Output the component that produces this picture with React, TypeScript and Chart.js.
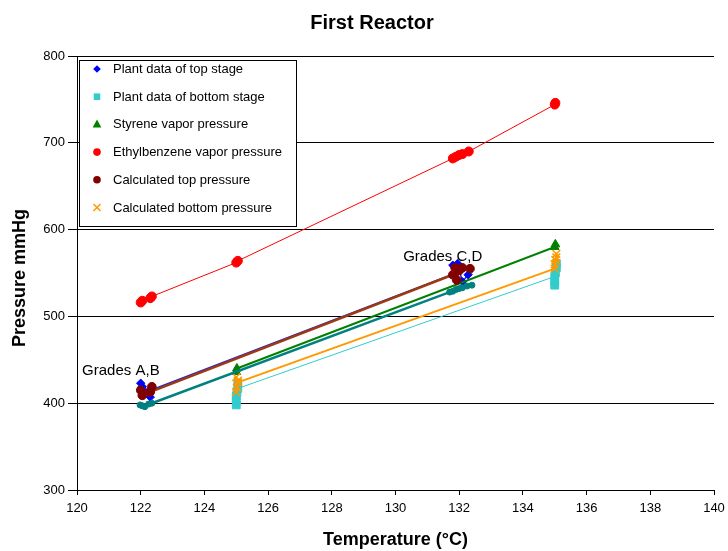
import React, { useEffect, useRef } from "react";
import { Chart, registerables } from "chart.js";

Chart.register(...registerables);

const TITLE = "First Reactor";
const X_TITLE = "Temperature (°C)";
const Y_TITLE = "Pressure mmHg";

const X_TICKS = [120, 122, 124, 126, 128, 130, 132, 134, 136, 138, 140];
const Y_TICKS = [300, 400, 500, 600, 700, 800];

// Plant data of top stage
const plantTopT = [122.0, 122.3, 122.05, 122.25, 131.9, 131.8, 131.95, 132.1, 132.28];
const plantTopP = [423, 407, 419, 414, 550, 559, 561, 540, 548];

// Plant data of bottom stage
const plantBotT = [125.0, 125.0, 125.0, 125.02, 125.05, 125.05, 135.0, 135.0, 135.0, 135.02, 135.05, 135.05];
const plantBotP = [398, 402, 408, 412, 423, 417, 546, 536, 540, 550, 556, 561];

// Styrene vapor pressure
const styreneT = [125.0, 125.02, 135.0, 135.02];
const styreneP = [436, 440, 580, 583];

// Ethylbenzene vapor pressure
const ebT = [122.0, 122.05, 122.3, 122.35, 125.0, 125.05, 131.8, 131.9, 132.0, 132.1, 132.3, 135.0, 135.02];
const ebP = [516, 518, 521, 523, 562, 564, 682, 684, 686, 687, 690, 744, 746];

// Calculated top pressure
const calcTopT = [122.0, 122.05, 122.35, 122.3, 131.8, 131.87, 131.92, 132.0, 132.1, 132.34];
const calcTopP = [415, 409, 419, 413, 548, 556, 542, 553, 556, 555];

// Calculated bottom pressure
const calcBotT = [125.0, 125.0, 125.02, 125.05, 125.05, 135.0, 135.0, 135.02, 135.05, 135.05];
const calcBotP = [413, 430, 418, 426, 424, 555, 560, 565, 572, 568];

// Styrene vapor pressure, grades A-D (no legend entry)
const styreneAdT = [121.98, 122.05, 122.13, 122.25, 122.35, 131.7, 131.8, 131.9, 132.0, 132.1, 132.25, 132.4];
const styreneAdP = [398, 397, 396, 399, 400, 528, 529, 531, 532, 533, 535, 536];

const ANNOTATIONS = [
  { text: "Grades A,B", t: 120.16, p: 432.5 },
  { text: "Grades C,D", t: 130.24, p: 563.8 },
];

type Style = "rectRot" | "rect" | "triangle" | "circle" | "crossRot";

const SERIES = [
  { label: "Plant data of top stage", t: plantTopT, p: plantTopP, color: "#0000FF", line: "#2020E0", lw: 1.5, style: "rectRot" as Style, r: 4.2, legend: true },
  { label: "Plant data of bottom stage", t: plantBotT, p: plantBotP, color: "#33CCCC", line: "#33CCCC", lw: 1, style: "rect" as Style, r: 5.5, legend: true },
  { label: "Styrene vapor pressure", t: styreneT, p: styreneP, color: "#008000", line: "#008000", lw: 2, style: "triangle" as Style, r: 5, legend: true },
  { label: "Ethylbenzene vapor pressure", t: ebT, p: ebP, color: "#FF0000", line: "#FF0000", lw: 1, style: "circle" as Style, r: 4.5, legend: true },
  { label: "Calculated top pressure", t: calcTopT, p: calcTopP, color: "#800000", line: "#9C3B12", lw: 2.5, style: "circle" as Style, r: 4.3, legend: true },
  { label: "Calculated bottom pressure", t: calcBotT, p: calcBotP, color: "#FF9900", line: "#FF9900", lw: 2, style: "crossRot" as Style, r: 5.5, legend: true },
  { label: "Styrene vapor pressure (A-D)", t: styreneAdT, p: styreneAdP, color: "#008080", line: "#008080", lw: 2.5, style: "circle" as Style, r: 3, legend: false },
];

const FONT = '"Liberation Sans", Arial, Helvetica, sans-serif';

function drawMarker(ctx: CanvasRenderingContext2D, style: Style, x: number, y: number, r: number, color: string) {
  ctx.save();
  ctx.fillStyle = color;
  ctx.strokeStyle = color;
  ctx.lineWidth = 1.5;
  ctx.beginPath();
  if (style === "rectRot") {
    ctx.moveTo(x, y - r);
    ctx.lineTo(x + r, y);
    ctx.lineTo(x, y + r);
    ctx.lineTo(x - r, y);
    ctx.closePath();
    ctx.fill();
  } else if (style === "rect") {
    ctx.rect(x - r * 0.75, y - r * 0.75, r * 1.5, r * 1.5);
    ctx.fill();
  } else if (style === "triangle") {
    ctx.moveTo(x, y - r);
    ctx.lineTo(x + r * 0.9, y + r * 0.65);
    ctx.lineTo(x - r * 0.9, y + r * 0.65);
    ctx.closePath();
    ctx.fill();
  } else if (style === "circle") {
    ctx.arc(x, y, r, 0, Math.PI * 2);
    ctx.fill();
  } else {
    const d = r * 0.707;
    ctx.moveTo(x - d, y - d);
    ctx.lineTo(x + d, y + d);
    ctx.moveTo(x + d, y - d);
    ctx.lineTo(x - d, y + d);
    ctx.stroke();
  }
  ctx.restore();
}

const overlay = {
  id: "overlay",
  afterDraw(chart: any) {
    const ctx: CanvasRenderingContext2D = chart.ctx;
    const xs = chart.scales.x;
    const ys = chart.scales.y;
    const area = chart.chartArea;
    ctx.save();
    ctx.fillStyle = "#000";
    ctx.textAlign = "center";
    ctx.textBaseline = "middle";
    ctx.font = `bold 20px ${FONT}`;
    ctx.fillText(TITLE, 372, 23);
    ctx.font = `bold 18px ${FONT}`;
    ctx.fillText(X_TITLE, (area.left + area.right) / 2, 540);
    ctx.save();
    ctx.translate(20, 278);
    ctx.rotate(-Math.PI / 2);
    ctx.fillText(Y_TITLE, 0, 0);
    ctx.restore();

    ctx.font = `15px ${FONT}`;
    ctx.textAlign = "left";
    ctx.textBaseline = "alphabetic";
    for (const a of ANNOTATIONS) {
      ctx.fillText(a.text, xs.getPixelForValue(a.t), ys.getPixelForValue(a.p));
    }

    // legend box
    const bx = 79.5, by = 60.5, bw = 217, bh = 166;
    ctx.fillStyle = "#fff";
    ctx.fillRect(bx, by, bw, bh);
    ctx.strokeStyle = "#000";
    ctx.lineWidth = 1;
    ctx.strokeRect(bx, by, bw, bh);
    ctx.font = `13px ${FONT}`;
    ctx.textBaseline = "middle";
    ctx.fillStyle = "#000";
    SERIES.filter((s) => s.legend).forEach((s, i) => {
      const cy = 69 + i * 27.7;
      const rr = s.style === "crossRot" ? 5 : s.style === "rect" ? 4.4 : s.style === "triangle" ? 4.8 : 3.8;
      drawMarker(ctx, s.style, 97, cy, rr, s.color);
      ctx.fillStyle = "#000";
      ctx.fillText(s.label, 113, cy + 0.5);
    });
    ctx.restore();
  },
};

export default function App() {
  const ref = useRef<HTMLCanvasElement | null>(null);
  useEffect(() => {
    if (!ref.current) return;
    const n = SERIES.length;
    const chart = new Chart(ref.current, {
      type: "scatter",
      data: {
        datasets: SERIES.map((s, i) => ({
          label: s.label,
          data: s.t.map((x, k) => ({ x, y: s.p[k] })),
          showLine: true,
          borderColor: s.line,
          borderWidth: s.lw,
          backgroundColor: s.color,
          pointBackgroundColor: s.color,
          pointBorderColor: s.color,
          pointBorderWidth: s.style === "crossRot" ? 1.6 : 1,
          pointStyle: s.style,
          pointRadius: s.r,
          pointHoverRadius: s.r,
          tension: 0,
          order: n - i,
        })),
      },
      options: {
        responsive: false,
        animation: false,
        events: [],
        layout: { padding: { left: 0, right: 14, top: 56, bottom: 0 } },
        plugins: {
          legend: { display: false },
          title: { display: false },
          tooltip: { enabled: false },
        },
        scales: {
          x: {
            type: "linear",
            min: 120,
            max: 140,
            afterBuildTicks: (s: any) => {
              s.ticks = X_TICKS.map((v) => ({ value: v }));
            },
            afterFit: (s: any) => {
              s.height = 61;
              s.paddingLeft = 0;
              s.paddingRight = 0;
            },
            grid: { drawOnChartArea: false, drawTicks: true, tickLength: 5, color: "#000" },
            border: { display: true, color: "#000", width: 1 },
            ticks: { color: "#000", font: { family: FONT, size: 13 }, padding: 6, maxRotation: 0, autoSkip: false },
          },
          y: {
            type: "linear",
            min: 300,
            max: 800,
            afterBuildTicks: (s: any) => {
              s.ticks = Y_TICKS.map((v) => ({ value: v }));
            },
            afterFit: (s: any) => {
              s.width = 77;
              s.paddingTop = 0;
              s.paddingBottom = 0;
            },
            grid: { color: "#000", lineWidth: 1, drawTicks: true, tickLength: 9 },
            border: { display: true, color: "#000", width: 1 },
            ticks: { color: "#000", font: { family: FONT, size: 13 }, padding: 3 },
          },
        },
      },
      plugins: [overlay],
    } as any);
    return () => chart.destroy();
  }, []);
  return (
    <div style={{ position: "fixed", left: 0, top: 0, width: 728, height: 551, background: "#fff" }}>
      <canvas ref={ref} width={728} height={551} style={{ display: "block" }} />
    </div>
  );
}
